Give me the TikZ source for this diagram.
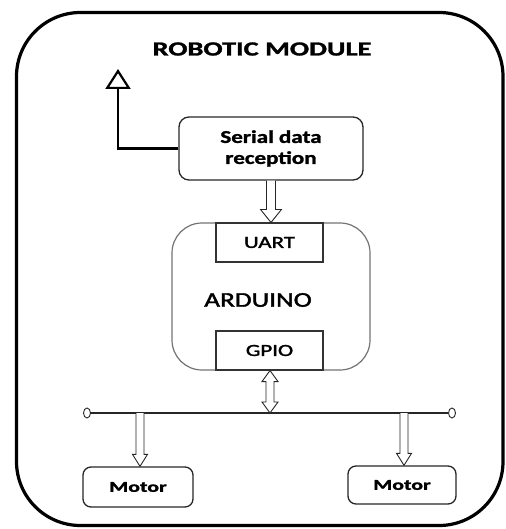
\documentclass[tikz,border=0pt]{standalone}
\usepackage{fontspec}
\usepackage{graphicx}
\setmainfont{Carlito}[BoldFeatures={FakeBold=1.3}]
\newfontfamily\semibold{Carlito}[FakeBold=1.6]
\usetikzlibrary{shapes.geometric,arrows.meta,calc}
\newcommand\hs[2][1.35]{\scalebox{#1}[1]{#2}}
\newcommand\blockarrow[5]{%
  \draw[barrow] let \p1=(#1), \p2=(#2) in
    (\x1-#3,\y1) -- (\x1-#3,\y2+#5) -- (\x1-#4,\y2+#5) -- (\x1,\y2)
    -- (\x1+#4,\y2+#5) -- (\x1+#3,\y2+#5) -- (\x1+#3,\y1);}
\newcommand\blockboth[5]{%
  \draw[barrow] let \p1=(#1), \p2=(#2) in
    (\x1,\y1) -- (\x1-#4,\y1-#5) -- (\x1-#3,\y1-#5) -- (\x1-#3,\y2+#5)
    -- (\x1-#4,\y2+#5) -- (\x1,\y2) -- (\x1+#4,\y2+#5) -- (\x1+#3,\y2+#5)
    -- (\x1+#3,\y1-#5) -- (\x1+#4,\y1-#5) -- cycle;}
\begin{document}
\begin{tikzpicture}[x=1pt,y=-1pt,
  barrow/.style={draw=black!85, line width=0.9pt, fill=white, line join=miter},
  rbox/.style={draw=black!85, line width=1.3pt, align=center, inner sep=0pt},
  sbox/.style={draw=black!80, line width=1.1pt, inner sep=0pt,
    minimum width=107pt, minimum height=39pt,
    font=\semibold\fontsize{17}{20}\selectfont},
  mbox/.style={rbox, rounded corners=8pt, font=\bfseries\fontsize{15}{18}\selectfont},
  dot/.style={ellipse, draw=black!85, line width=0.9pt, minimum width=7pt,
    minimum height=10pt, inner sep=0pt}]
\useasboundingbox (0,0) rectangle (505,529);
% outer frame
\draw[line width=3.2pt, rounded corners=64pt] (16.5,12.5) rectangle (503,525.5);
\node[font=\bfseries\fontsize{20}{24}\selectfont] (title) at (262,49) {\hs[1.42]{ROBOTIC MODULE}};
% serial data reception
\node[rbox, rounded corners=10pt, minimum width=184pt, minimum height=63pt,
  font=\bfseries\fontsize{18}{21}\selectfont] (ser) at (271,148.5)
  {\hs[1.28]{Serial data}\\\hs[1.28]{reception}};
\coordinate (fbtip) at (118,69);
\draw[line width=2.4pt, -{Triangle[open, length=20pt, width=25pt, line width=2.2pt]}]
  (ser.west) -| (fbtip);
% arduino
\node[draw=black!55, line width=1.2pt, rounded corners=30pt,
  minimum width=198pt, minimum height=147pt] (ard) at (271,296.5) {};
\node[font=\semibold\fontsize{21}{24}\selectfont] (ardtxt) at (258,300) {\hs[1.3]{ARDUINO}};
\node[sbox] (uart) at (269.5,242.5) {\hs{UART}};
\node[sbox] (gpio) at (269.5,350.5) {\hs{GPIO}};
\blockarrow{ser.south}{uart.north}{4.5pt}{10.5pt}{13pt}
% bus
\node[dot] (busL) at (87,413) {};
\node[dot] (busR) at (452,413) {};
\draw[draw=black!85, line width=1.1pt] (busL) -- (busR);
\coordinate (busM) at (270,413);
\coordinate (j1) at (140,413);
\coordinate (j2) at (404,413);
\blockboth{gpio.south -| busM}{busM}{4pt}{8pt}{11pt}
% motors
\node[mbox, minimum width=110pt, minimum height=40pt] (m1) at (138,487) {\hs[1.45]{Motor}};
\node[mbox, minimum width=108pt, minimum height=38pt] (m2) at (402,485) {\hs[1.45]{Motor}};
\blockarrow{j1}{j1 |- m1.north}{4pt}{7.5pt}{12pt}
\blockarrow{j2}{j2 |- m2.north}{4pt}{7.5pt}{12pt}
\end{tikzpicture}
\end{document}
